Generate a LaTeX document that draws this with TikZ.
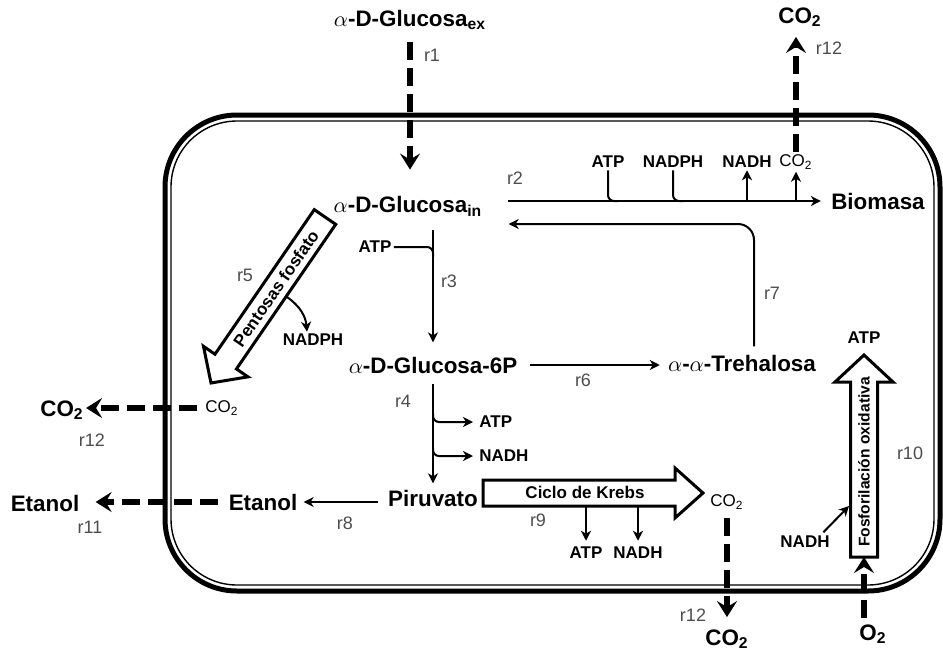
\documentclass[tikz,border=0pt]{standalone}
\usepackage{fontspec}
\setmainfont{Liberation Sans}
\usepackage{tikz}
\usetikzlibrary{arrows.meta,calc}

\tikzset{
  met/.style={inner sep=1pt, font=\fontsize{11.2}{13}\selectfont\bfseries},
  cof/.style={inner sep=1pt, font=\fontsize{8.5}{10}\selectfont},
  cofb/.style={inner sep=1pt, font=\fontsize{8.5}{10}\selectfont\bfseries},
  rl/.style={inner sep=0pt, text=black!70, font=\fontsize{9}{10}\selectfont},
  flux/.style={line width=1pt, -{Stealth[length=5pt,width=5pt,inset=1.5pt]}},
  cofline/.style={line width=1pt},
  xflux/.style={line width=2.8pt, dash pattern=on 9pt off 4pt, -{Stealth[length=8pt,width=10pt,inset=3pt]}},
  pathway/.style={draw, line width=1.5pt, fill=white, line join=miter},
  pwtext/.style={inner sep=0pt, font=\fontsize{8.5}{10}\selectfont\bfseries},
}

% block arrow: tail, tip, half shaft, half head, head length
\newcommand{\bigarrow}[5]{%
  \coordinate (hb) at ($(#2)!#5!(#1)$);
  \draw[pathway] ($(#1)!#3!90:(#2)$) -- ($(hb)!#3!-90:(#1)$) -- ($(hb)!#4!-90:(#1)$)
    -- (#2) -- ($(hb)!#4!90:(#1)$) -- ($(hb)!#3!90:(#1)$) -- ($(#1)!#3!-90:(#2)$) -- cycle;
}

\begin{document}
\begin{tikzpicture}[x=0.5pt,y=-0.5pt]
  \useasboundingbox (0,0) rectangle (943,649);
  % cell membrane
  \draw[line width=2.5pt, rounded corners=36pt] (165,115) rectangle (940,591);
  \draw[line width=0.7pt, rounded corners=33pt] (171,121) rectangle (934,585);

  % metabolites
  \node[met] (gex) at (410,20) {$\alpha$-D-Glucosa\textsubscript{ex}};
  \node[met] (gin) at (408,206) {$\alpha$-D-Glucosa\textsubscript{in}};
  \node[met] (g6p) at (433,365) {$\alpha$-D-Glucosa-6P};
  \node[met] (tre) at (742,363) {$\alpha$-$\alpha$-Trehalosa};
  \node[met] (pir) at (433,498) {Piruvato};
  \node[met] (eti) at (263,502) {Etanol};
  \node[met] (eto) at (45,503) {Etanol};
  \node[met] (bio) at (878,201) {Biomasa};
  \node[met] (co2a) at (800,17) {CO\textsubscript{2}};
  \node[met] (co2b) at (62,410) {CO\textsubscript{2}};
  \node[met] (co2c) at (727,639) {CO\textsubscript{2}};
  \node[met] (o2) at (873,634) {O\textsubscript{2}};

  % cofactors
  \node[cofb] (atp2) at (608,162) {ATP};
  \node[cofb] (nadph2) at (673,162) {NADPH};
  \node[cofb] (nadh2) at (747,162) {NADH};
  \node[cof] (co2r2) at (796,162) {CO\textsubscript{2}};
  \node[cofb] (atp3) at (375,247) {ATP};
  \node[cofb, anchor=west] (atp4) at (477,422) {ATP};
  \node[cofb, anchor=west] (nadh4) at (477,456) {NADH};
  \node[cofb] (nadph5) at (313,340) {NADPH};
  \node[cof] (co2r5) at (222,408) {CO\textsubscript{2}};
  \node[cofb] (atp9) at (586,553) {ATP};
  \node[cofb] (nadh9) at (638,553) {NADH};
  \node[cof] (co2r9) at (727,502) {CO\textsubscript{2}};
  \node[cofb] (atp10) at (864,338) {ATP};
  \node[cofb] (nadh10) at (805,542) {NADH};

  % r1
  \draw[xflux, shorten <=5pt, shorten >=12pt] (gex.south) -- (gex.south |- gin.north);
  % r2
  \coordinate (r2a) at ([shift={(23,-5)}]gin.east);
  \draw[flux, line width=1.4pt, shorten >=4pt] (r2a) -- (bio);
  \draw[cofline, rounded corners=3pt] (atp2.south) |- ($(atp2.south |- r2a)+(10,0)$);
  \draw[cofline, rounded corners=3pt] (nadph2.south) |- ($(nadph2.south |- r2a)+(10,0)$);
  \draw[flux] (nadh2.south |- r2a) -- (nadh2.south);
  \draw[flux] (co2r2.south |- r2a) -- (co2r2.south);
  \draw[xflux, shorten >=4pt] (co2r2.north) -- (co2r2.north |- co2a.south);
  % r3
  \draw[flux, shorten <=6pt, shorten >=6pt] (gin.south -| g6p.north) -- (g6p.north);
  \draw[cofline, rounded corners=3pt] (atp3.east) -| ($(atp3.east -| g6p.north)+(0,10)$);
  % r4
  \draw[flux, shorten <=4pt, shorten >=2pt] (g6p.south) -- (pir.north);
  \draw[flux, rounded corners=3pt, shorten >=2pt] ($(atp4.west -| g6p.south)+(0,-8)$) |- (atp4.west);
  \draw[flux, rounded corners=3pt, shorten >=2pt] ($(nadh4.west -| g6p.south)+(0,-8)$) |- (nadh4.west);
  % r5
  \coordinate (pft) at (325,217);
  \coordinate (pfh) at (211,383);
  \bigarrow{pft}{pfh}{6.5pt}{13.5pt}{13pt}
  \node[pwtext, rotate=55.4] (pf) at ($(pft)!0.43!(pfh)$) {Pentosas fosfato};
  \coordinate (pfn) at (287,297);
  \draw[flux] (pfn) to[out=-35,in=95] ([xshift=-3pt]nadph5.north);
  % r12
  \draw[xflux, shorten <=3pt] (co2r5.west) -- (co2r5.west -| co2b.east);
  % r6
  \draw[flux, shorten <=5pt, shorten >=3pt] (g6p.east) -- (g6p.east -| tre.west);
  % r7
  \coordinate (r7a) at ([shift={(24,18)}]gin.east);
  \draw[flux, rounded corners=8pt, shorten <=3pt] ([xshift=6pt]tre.north) |- (r7a);
  % r8 and r11
  \draw[flux, shorten <=4pt, shorten >=2pt] (pir.west |- eti) -- (eti.east);
  \draw[xflux, shorten <=4pt, shorten >=7pt] (eti.west) -- (eti.west -| eto.east);
  % r9
  \coordinate (kbt) at (483,493);
  \coordinate (kbh) at (703,493);
  \coordinate (kbb) at (483,506);
  \bigarrow{kbt}{kbh}{6.5pt}{12.5pt}{14pt}
  \node[pwtext] (kb) at (585,492) {Ciclo de Krebs};
  \draw[flux, shorten >=2pt] (atp9.north |- kbb) -- (atp9.north);
  \draw[flux, shorten >=2pt] (nadh9.north |- kbb) -- (nadh9.north);
  \draw[xflux, shorten <=3pt, shorten >=5pt] (co2r9.south) -- (co2r9.south |- co2c.north);
  % r10
  \coordinate (oxt) at (864,557);
  \coordinate (oxh) at (864,355);
  \coordinate (oxn) at (849,506);
  \bigarrow{oxt}{oxh}{6.75pt}{14.5pt}{13.5pt}
  \node[pwtext, font=\fontsize{7.8}{9}\selectfont\bfseries, rotate=90] (ox) at (864,462) {Fosforilación oxidativa};
  \draw[flux, shorten <=1pt] ([xshift=-5pt]nadh10.north east) -- (oxn);
  \draw[xflux, shorten <=2pt] (o2.north -| oxt) -- (oxt);

  % reaction labels
  \node[rl] (lr1) at (432,55) {r1};
  \node[rl] (lr2) at (515,178) {r2};
  \node[rl] (lr3) at (449,281) {r3};
  \node[rl] (lr4) at (403,401) {r4};
  \node[rl] (lr5) at (245,275) {r5};
  \node[rl] (lr6) at (583,380) {r6};
  \node[rl] (lr7) at (772,293) {r7};
  \node[rl] (lr8) at (345,523) {r8};
  \node[rl] (lr9) at (538,520) {r9};
  \node[rl] (lr10) at (910,453) {r10};
  \node[rl] (lr11) at (90,527) {r11};
  \node[rl] (lr12a) at (829,48) {r12};
  \node[rl] (lr12b) at (92,440) {r12};
  \node[rl] (lr12c) at (693,615) {r12};
\end{tikzpicture}
\end{document}
